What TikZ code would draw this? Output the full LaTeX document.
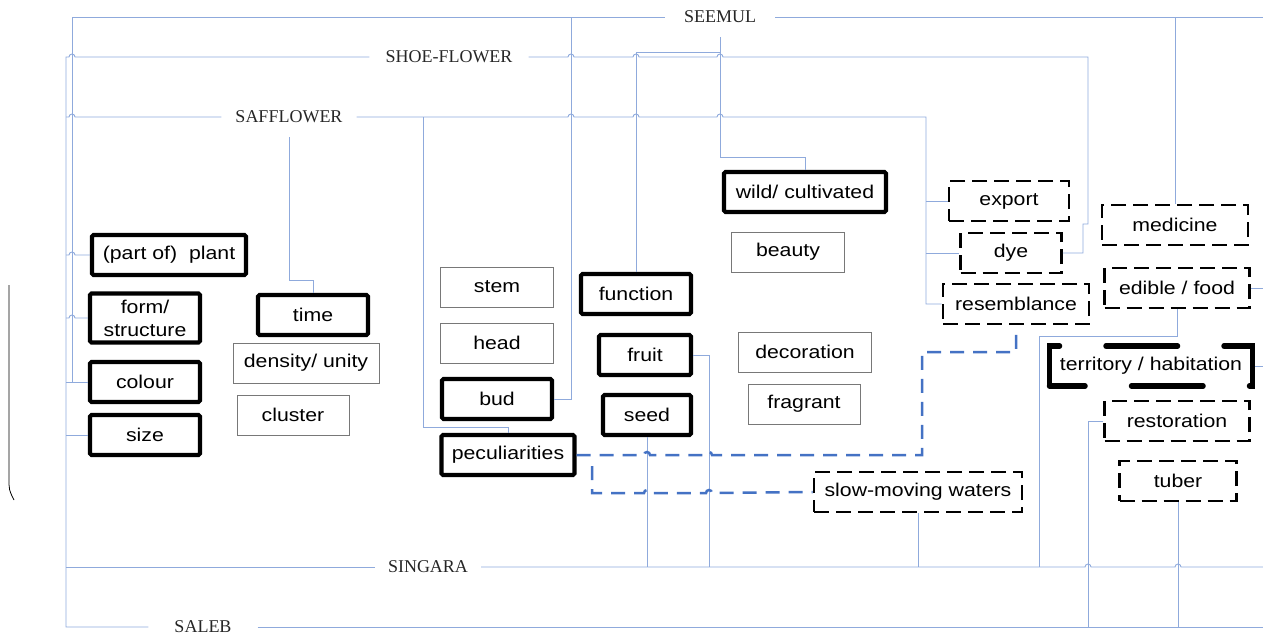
\documentclass[tikz,border=0pt]{standalone}
\usepackage{fontspec}
\setmainfont{Liberation Serif}
\newfontfamily\boxfont[FakeStretch=1.15]{Liberation Sans}
\usepackage{xcolor}

\definecolor{linkblue}{RGB}{143,170,220}
\definecolor{waterblue}{RGB}{68,114,196}
\definecolor{boxgrey}{RGB}{120,120,120}

\tikzset{
  plantname/.style={font=\fontsize{18}{20}\selectfont, text=black!85, minimum height=40pt, inner xsep=16pt, inner ysep=0pt},
  link/.style={draw=linkblue, line width=0.9pt},
  water/.style={draw=waterblue, line width=2.5pt, dash pattern=on 14pt off 9pt},
  jump/.style={insert path={arc[start angle=180,end angle=360,radius=3]}},
  tag/.style={font=\boxfont\fontsize{18.5}{23}\selectfont, align=center, inner sep=0pt, minimum height=40pt},
  strong/.style={tag, draw=black, line width=4.2pt, rounded corners=1.5pt},
  weak/.style={tag, draw=boxgrey, line width=0.9pt},
  maybe/.style={tag, draw=black, line width=2.8pt, dash pattern=on 15pt off 7pt},
  home/.style={tag, draw=black, line width=5.5pt, line cap=round, dash pattern=on 71.5pt off 46.5pt, dash phase=36pt}
}

\begin{document}
\begin{tikzpicture}[x=1pt,y=-1pt]
    \useasboundingbox (0,0) rectangle (1263,637);

    % plant names
    \node[plantname, inner xsep=19pt] (seemul) at (720,17) {SEEMUL};
    \node[plantname] (shoe) at (449,57) {SHOE-FLOWER};
    \node[plantname, inner xsep=14pt] (saff) at (289,117) {SAFFLOWER};
    \node[plantname, inner xsep=13pt] (singara) at (428,567) {SINGARA};
    \node[plantname, inner xsep=26pt] (saleb) at (203,627) {SALEB};

    % boxes
    \node[strong, minimum width=154pt] (plant) at (169,255) {(part of)\ \ plant};
    \node[strong, minimum width=110pt, minimum height=49pt] (form) at (145,318) {form/\\structure};
    \node[strong, minimum width=110pt] (colour) at (145,382) {colour};
    \node[strong, minimum width=110pt] (size) at (145,435) {size};
    \node[strong, minimum width=110pt] (time) at (313,315) {time};
    \node[weak, minimum width=146pt] (density) at (306,363) {density/ unity};
    \node[weak, minimum width=112pt] (cluster) at (293,415) {cluster};
    \node[weak, minimum width=113pt] (stem) at (497,287) {stem};
    \node[weak, minimum width=113pt] (head) at (497,343) {head};
    \node[strong, minimum width=110pt] (bud) at (497,399) {bud};
    \node[strong, minimum width=133pt] (pec) at (508,455) {peculiarities};
    \node[strong, minimum width=110pt] (function) at (636,294) {function};
    \node[strong, minimum width=92pt] (fruit) at (645,355) {fruit};
    \node[strong, minimum width=88pt] (seed) at (647,415) {seed};
    \node[strong, minimum width=162pt] (wild) at (805,192) {wild/ cultivated};
    \node[weak, minimum width=113pt] (beauty) at (788,252) {beauty};
    \node[weak, minimum width=133pt] (decoration) at (805,352) {decoration};
    \node[weak, minimum width=112pt] (fragrant) at (804,404) {fragrant};
    \node[maybe, minimum width=120pt] (export) at (1009,201) {export};
    \node[maybe, minimum width=101pt] (dye) at (1011,253) {dye};
    \node[maybe, minimum width=146pt] (resem) at (1016,304) {resemblance};
    \node[maybe, minimum width=146pt] (medicine) at (1175,225) {medicine};
    \node[maybe, minimum width=145pt] (edible) at (1177,288) {edible / food};
    \node[home, minimum width=203pt] (terr) at (1151,366) {territory / habitation};
    \node[maybe, minimum width=145pt] (restor) at (1177,421) {restoration};
    \node[maybe, minimum width=117pt] (tuber) at (1178,481) {tuber};
    \node[maybe, minimum width=208pt] (slow) at (918,492) {slow-moving waters};

    % bus lines
    \coordinate (ol) at (66,0);
    \coordinate (il) at (72,0);
    \coordinate (edge) at (1263,0);
    \draw[link] (saleb.west) -| (shoe.west -| ol) -- ++(3,0) [jump] -- (shoe.west);
    \draw[link] (saff.west -| ol) -- ++(3,0) [jump] -- (saff.west);
    \draw[link] (plant.west -| ol) -- ++(3,0) [jump] -- (plant.west);
    \draw[link] (form.west -| ol) -- ++(3,0) [jump] -- (form.west);
    \draw[link] (colour.west -| ol) -- (colour.west);
    \draw[link] (size.west -| ol) -- (size.west);
    \draw[link] (singara.west -| ol) -- (singara.west);

    % seemul
    \draw[link] (seemul.west) -| (colour.west -| il);
    \draw[link] (seemul.east) -- (seemul.east -| edge);
    \draw[link] (medicine.north |- seemul.east) -- (medicine.north);
    \coordinate (sm-bud) at (571,17);
    \draw[link] (sm-bud) |- (bud.east);
    \draw[link] (seemul.south) -- ++(0,120) -| (wild.north);
    \draw[link] ([yshift=-15pt]seemul.south) -| (function.north);

    % shoe-flower
    \draw[link] (shoe.east) -- (568,57) [jump] -- (633,57) [jump] -- (717,57) [jump]
        -- (1088,57) -- (1088,224) -- (1083,224) |- (dye.east);

    % safflower
    \coordinate (sf-r) at (926,117);
    \draw[link] (saff.east) -- (568,117) [jump] -- (633,117) [jump] -- (717,117) [jump]
        -- (sf-r) |- (resem.west);
    \draw[link] (export.west -| sf-r) -- (export.west);
    \draw[link] (dye.west -| sf-r) -- (dye.west);
    \draw[link] (saff.south) -- ++(0,143) -| (time.north);
    \coordinate (sf-pec) at (423,117);
    \draw[link] (sf-pec) -- ++(0,310) -| (pec.north);

    % singara
    \draw[link] (singara.east) -- (1085,567) [jump] -- (1175,567) [jump] -- (singara.east -| edge);
    \draw[link] (seed.south) -- (seed.south |- singara.east);
    \coordinate (sg-fruit) at (709,567);
    \draw[link] (fruit.east) -| (sg-fruit);
    \draw[link] (slow.south) -- (slow.south |- singara.east);
    \coordinate (sg-edible) at (1039,567);
    \draw[link] (edible.south) -- ++(0,27) -| (sg-edible);

    % saleb
    \draw[link] (saleb.east) -- (saleb.east -| edge);
    \coordinate (sl-restor) at (1088,627);
    \draw[link] (restor.west) -| (sl-restor);
    \draw[link] (tuber.south) -- (tuber.south |- saleb.east);

    % off the page
    \draw[link] (edible.east) -- (edible.east -| edge);
    \draw[link] (terr.east) -- (terr.east -| edge);

    % waters
    \draw[water] (pec.east) -- (644,455) [jump] -- (706,455) [jump] -- (922,455)
        -- (922,352) -| ([yshift=-7pt]resem.south);
    \coordinate (pec-low) at (592,466);
    \draw[water] (pec-low) -- (592,493) -- (644,493) [jump] -- (706,493) [jump] -- (slow.west);

    \draw[black, line width=0.8pt] (9,285) -- (9,478) .. controls (9,490) .. (14,500);
\end{tikzpicture}
\end{document}
